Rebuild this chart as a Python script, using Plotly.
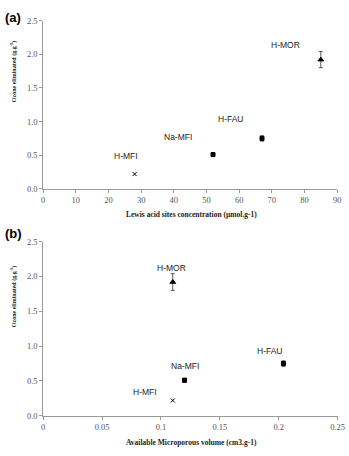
import plotly.graph_objects as go

# Data
materials = ["H-MFI", "Na-MFI", "H-FAU", "H-MOR"]
lewis_acid = [28, 52, 67, 85]
micro_volume = [0.11, 0.12, 0.204, 0.11]
ozone = [0.22, 0.51, 0.75, 1.92]
ozone_err = [0.0, 0.03, 0.04, 0.12]
symbols = ["x-thin", "square", "square", "triangle-up"]
sizes = [4, 4, 4, 5]

# label positions (data coords)
lab_a_x = [25.3, 41.4, 57.5, 74.1]
lab_a_y = [0.49, 0.77, 1.04, 2.14]
lab_b_x = [0.0864, 0.12, 0.193, 0.1093]
lab_b_y = [0.34, 0.712, 0.937, 2.125]

H = 456
W = 349
def dom(top_px, bot_px):
    return [1 - bot_px / H, 1 - top_px / H]

fig = go.Figure()
for i in range(len(materials)):
    for xs, xa, ya in [(lewis_acid, "x", "y"), (micro_volume, "x2", "y2")]:
        fig.add_trace(go.Scatter(
            x=[xs[i]], y=[ozone[i]], mode="markers", xaxis=xa, yaxis=ya,
            marker=dict(symbol=symbols[i], size=sizes[i], color="black",
                        line=dict(color="black", width=1)),
            error_y=dict(type="data", array=[ozone_err[i]], visible=ozone_err[i] > 0,
                         color="#333", thickness=0.8, width=2),
            showlegend=False, hoverinfo="skip"))

tickfont = dict(family="Liberation Serif", size=8.5, color="#555555")
axis_common = dict(showline=True, linecolor="#999999", linewidth=1, ticks="outside",
                   ticklen=3, tickcolor="#999999", showgrid=False, zeroline=False,
                   tickfont=tickfont)

fig.update_layout(
    width=W, height=H, margin=dict(l=0, r=0, t=0, b=0),
    plot_bgcolor="white", paper_bgcolor="white",
    xaxis=dict(domain=[42.3 / W, 344 / W], range=[0, 90], dtick=10, anchor="y", **axis_common),
    yaxis=dict(domain=dom(16, 188), range=[0, 2.5], dtick=0.5, tickformat=".1f", anchor="x", **axis_common),
    xaxis2=dict(domain=[42.3 / W, 344.5 / W], range=[0, 0.25], dtick=0.05, anchor="y2", **axis_common),
    yaxis2=dict(domain=dom(242, 420), range=[0, 2.5], dtick=0.5, tickformat=".1f", anchor="x2", **axis_common),
)

labfont = dict(family="Liberation Sans", size=8.5, color="#222222")
ann = []
for i, m in enumerate(materials):
    ann.append(dict(x=lab_a_x[i], y=lab_a_y[i], xref="x", yref="y", text=m, showarrow=False, font=labfont,
                    xanchor="center", yanchor="middle"))
    ann.append(dict(x=lab_b_x[i], y=lab_b_y[i], xref="x2", yref="y2", text=m, showarrow=False, font=labfont,
                    xanchor="center", yanchor="middle"))

ytitlefont = dict(family="Liberation Serif", size=6, color="#222222")
xtitlefont = dict(family="Liberation Serif", size=7.5, color="#222222")
def pa(x, y, text, font, angle=0, xanchor="center"):
    return dict(x=x / W, y=1 - y / H, xref="paper", yref="paper", text=text, showarrow=False,
                xanchor=xanchor, yanchor="middle", textangle=angle, font=font)

panelfont = dict(family="Liberation Sans", size=13, color="black")
ann += [
    pa(1, 13, "<b>(a)</b>", panelfont, xanchor="left"),
    pa(1, 234, "<b>(b)</b>", panelfont, xanchor="left"),
    pa(12, 68, "<b>Ozone eliminated (g.g<sup>-1</sup>)</b>", ytitlefont, angle=-90),
    pa(12, 298, "<b>Ozone eliminated (g.g<sup>-1</sup>)</b>", ytitlefont, angle=-90),
    pa(195, 214, "<b>Lewis acid sites concentration (µmol.g-1)</b>", xtitlefont),
    pa(195, 447, "<b>Available Microporous volume (cm3.g-1)</b>", xtitlefont),
]
fig.update_layout(annotations=ann)

fig.write_html("out.html")
